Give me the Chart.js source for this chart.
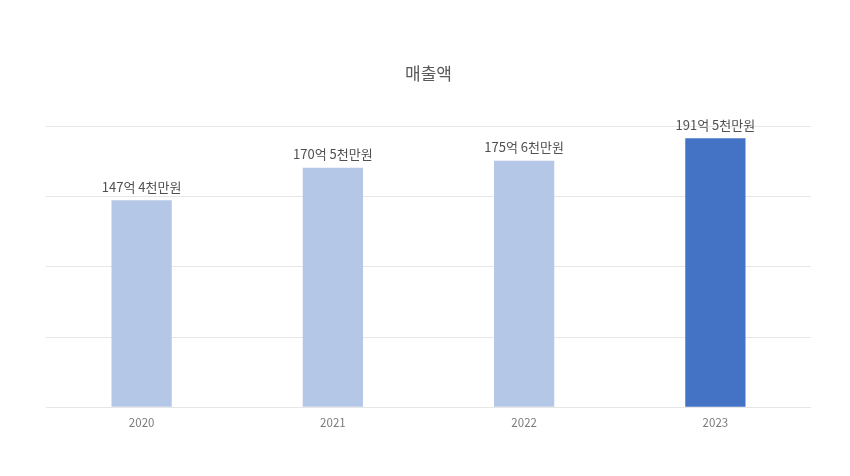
<!DOCTYPE html>
<html>
<head>
<meta charset="utf-8">
<script src="https://cdn.jsdelivr.net/npm/chart.js@4/dist/chart.umd.min.js"></script>
<style>
  html, body { margin: 0; padding: 0; background: #fff; }
  #wrap { width: 850px; height: 476px; }
</style>
</head>
<body>
<div id="wrap"><canvas id="chart"></canvas></div>
<script>
// --- DATA ---
const years = ['2020', '2021', '2022', '2023'];
const revenue = [147.4, 170.5, 175.6, 191.5]; // 억원
const valueLabels = ['147억 4천만원', '170억 5천만원', '175억 6천만원', '191억 5천만원'];
const barColors = ['#b4c7e7', '#b4c7e7', '#b4c7e7', '#4472c4'];

const FONT = "'Noto Sans CJK KR', 'Noto Sans', sans-serif";

// draws the text label above each bar
const barLabels = {
    id: 'barLabels',
    afterDatasetsDraw(chart) {
        const ctx = chart.ctx;
        const meta = chart.getDatasetMeta(0);
        ctx.save();
        ctx.font = '13px ' + FONT;
        ctx.fillStyle = '#505050';
        ctx.textAlign = 'center';
        ctx.textBaseline = 'bottom';
        meta.data.forEach((bar, i) => {
            ctx.fillText(valueLabels[i], bar.x, bar.y - 7);
        });
        ctx.restore();
    }
};

new Chart(document.getElementById('chart'), {
    type: 'bar',
    data: {
        labels: years,
        datasets: [{
            label: '매출액',
            data: revenue,
            backgroundColor: barColors,
            borderWidth: 0,
            barPercentage: 0.63,
            categoryPercentage: 0.5
        }]
    },
    options: {
        responsive: true,
        maintainAspectRatio: false,
        animation: false,
        layout: { padding: { top: 60, left: 46, right: 39, bottom: 37 } },
        plugins: {
            legend: { display: false },
            tooltip: { enabled: false },
            title: {
                display: true,
                text: '매출액',
                color: '#595959',
                font: { family: FONT, size: 17, weight: 'normal' },
                padding: { top: 3, bottom: 43 }
            }
        },
        scales: {
            y: {
                min: 0, max: 200,
                ticks: { display: false, stepSize: 50 },
                grid: { color: '#e6e6e6', drawTicks: false },
                border: { display: false }
            },
            x: {
                ticks: { color: '#7a7a7a', font: { family: FONT, size: 11.5 }, padding: 9 },
                grid: { display: false, drawTicks: false },
                border: { display: false }
            }
        }
    },
    plugins: [barLabels]
});
</script>
</body>
</html>
